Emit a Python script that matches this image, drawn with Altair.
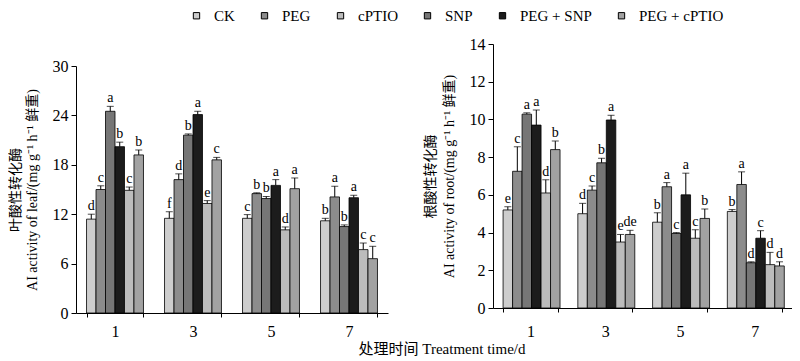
import altair as alt
import pandas as pd

days = ["1", "3", "5", "7"]
bar_order = ["CK", "PEG", "SNP", "PEG + SNP", "cPTIO", "PEG + cPTIO"]
legend_order = ["CK", "PEG", "cPTIO", "SNP", "PEG + SNP", "PEG + cPTIO"]
fill_colors = ["#cdcdcd", "#8c8c8c", "#bcbcbc", "#767676", "#1c1c1c", "#a2a2a2"]

# Leaf AI activity (mean, error, significance letter) per treatment, days 1,3,5,7
leaf_CK = [11.4, 11.5, 11.5, 11.2]
leaf_CK_err = [0.6, 0.8, 0.45, 0.3]
leaf_CK_sig = ["d", "f", "c", "b"]
leaf_PEG = [15.0, 16.2, 14.5, 14.1]
leaf_PEG_err = [0.45, 0.7, 0.1, 1.3]
leaf_PEG_sig = ["c", "d", "b", "a"]
leaf_SNP = [24.5, 21.6, 13.9, 10.5]
leaf_SNP_err = [0.6, 0.15, 0.25, 0.2]
leaf_SNP_sig = ["a", "b", "b", "b"]
leaf_PEGSNP = [20.2, 24.1, 15.5, 14.0]
leaf_PEGSNP_err = [0.55, 0.4, 0.7, 0.3]
leaf_PEGSNP_sig = ["b", "a", "a", "a"]
leaf_cPTIO = [14.9, 13.3, 10.1, 7.7]
leaf_cPTIO_err = [0.4, 0.35, 0.35, 0.8]
leaf_cPTIO_sig = ["c", "e", "d", "c"]
leaf_PEGcPTIO = [19.2, 18.6, 15.1, 6.6]
leaf_PEGcPTIO_err = [0.6, 0.3, 1.3, 1.5]
leaf_PEGcPTIO_sig = ["b", "c", "a", "c"]

# Root AI activity
root_CK = [5.2, 5.0, 4.55, 5.12]
root_CK_err = [0.17, 0.55, 0.5, 0.1]
root_CK_sig = ["e", "d", "b", "b"]
root_PEG = [7.25, 6.25, 6.43, 6.55]
root_PEG_err = [1.3, 0.22, 0.22, 0.67]
root_PEG_sig = ["c", "c", "a", "a"]
root_SNP = [10.28, 7.7, 3.95, 2.4]
root_SNP_err = [0.07, 0.24, 0.05, 0.05]
root_SNP_sig = ["a", "b", "c", "d"]
root_PEGSNP = [9.7, 9.97, 6.0, 3.7]
root_PEGSNP_err = [0.8, 0.25, 1.15, 0.4]
root_PEGSNP_sig = ["a", "a", "a", "c"]
root_cPTIO = [6.1, 3.5, 3.7, 2.3]
root_cPTIO_err = [0.7, 0.4, 0.45, 0.65]
root_cPTIO_sig = ["d", "e", "c", "d"]
root_PEGcPTIO = [8.4, 3.9, 4.75, 2.23]
root_PEGcPTIO_err = [0.45, 0.22, 0.5, 0.22]
root_PEGcPTIO_sig = ["b", "de", "b", "d"]

leaf_y_ticks = [0, 6, 12, 18, 24, 30]
root_y_ticks = [0, 2, 4, 6, 8, 10, 12, 14]


def build(series):
    rows = []
    for name, (vals, errs, sigs) in series.items():
        for d, v, e, s in zip(days, vals, errs, sigs):
            rows.append({"day": d, "treat": name, "value": v, "top": v + e, "sig": s})
    return pd.DataFrame(rows)


leaf_df = build({
    "CK": (leaf_CK, leaf_CK_err, leaf_CK_sig),
    "PEG": (leaf_PEG, leaf_PEG_err, leaf_PEG_sig),
    "SNP": (leaf_SNP, leaf_SNP_err, leaf_SNP_sig),
    "PEG + SNP": (leaf_PEGSNP, leaf_PEGSNP_err, leaf_PEGSNP_sig),
    "cPTIO": (leaf_cPTIO, leaf_cPTIO_err, leaf_cPTIO_sig),
    "PEG + cPTIO": (leaf_PEGcPTIO, leaf_PEGcPTIO_err, leaf_PEGcPTIO_sig),
})
root_df = build({
    "CK": (root_CK, root_CK_err, root_CK_sig),
    "PEG": (root_PEG, root_PEG_err, root_PEG_sig),
    "SNP": (root_SNP, root_SNP_err, root_SNP_sig),
    "PEG + SNP": (root_PEGSNP, root_PEGSNP_err, root_PEGSNP_sig),
    "cPTIO": (root_cPTIO, root_cPTIO_err, root_cPTIO_sig),
    "PEG + cPTIO": (root_PEGcPTIO, root_PEGcPTIO_err, root_PEGcPTIO_sig),
})

SERIF = "Liberation Serif, Times New Roman, Noto Sans CJK SC, serif"


def panel(df, ymax, yticks, width, height, ytitle, title_pad, line_h, xlabel_pad):
    x = alt.X("day:N", sort=days,
              scale=alt.Scale(paddingInner=0.27, paddingOuter=0.135),
              axis=alt.Axis(title=None, labelAngle=0, tickBand="extent", tickSize=4,
                            labelPadding=xlabel_pad, labelFontSize=16))
    xo = alt.XOffset("treat:N", sort=bar_order,
                     scale=alt.Scale(paddingInner=0, paddingOuter=0))
    y_scale = alt.Scale(domain=[0, ymax], nice=False)
    y_axis = alt.Axis(values=yticks, title=ytitle, grid=False, tickSize=5,
                      labelPadding=3, labelFontSize=16, titlePadding=title_pad,
                      labelOverlap=False, titleFontSize=14, titleLineHeight=line_h)
    base = alt.Chart(df)
    bars = base.mark_bar(stroke="black", strokeWidth=0.8).encode(
        x=x, xOffset=xo, y=alt.Y("value:Q", scale=y_scale, axis=y_axis),
        color=alt.Color("treat:N",
                        scale=alt.Scale(domain=legend_order, range=fill_colors),
                        legend=alt.Legend(title=None, orient="none", direction="horizontal",
                                          legendX=113, legendY=-36, symbolType="square",
                                          symbolSize=40, symbolStrokeColor="black",
                                          symbolStrokeWidth=1, labelFontSize=15,
                                          labelOffset=10, columnPadding=22, labelFont=SERIF)))
    err = base.mark_rule(color="black", strokeWidth=1).encode(
        x=x, xOffset=xo, y=alt.Y("value:Q", scale=y_scale, axis=y_axis), y2="top:Q")
    cap = base.mark_tick(orient="horizontal", size=7, thickness=1, color="black").encode(
        x=x, xOffset=xo, y=alt.Y("top:Q", scale=y_scale, axis=y_axis))
    txt = base.mark_text(baseline="bottom", dy=-1, fontSize=14, font=SERIF,
                         color="black", fill="black").encode(
        x=x, xOffset=xo, y=alt.Y("top:Q", scale=y_scale, axis=y_axis), text="sig:N")
    return alt.layer(bars, err, cap, txt).properties(width=width, height=height)


left = panel(leaf_df, 30, leaf_y_ticks, 312, 247,
             ["叶酸性转化酶", "AI activity of leaf/(mg g⁻¹ h⁻¹ 鲜重)"], 13, 17, 6)
right = panel(root_df, 14, root_y_ticks, 299, 264,
              ["根酸性转化酶", "AI activity of root/(mg g⁻¹ h⁻¹ 鲜重)"], 13, 19, 11)

spacer_df = pd.DataFrame({"v": [0]})
spacer = alt.Chart(spacer_df).mark_point(opacity=0).encode(
    x=alt.X("v:Q", axis=None), y=alt.Y("v:Q", axis=None)
).properties(width=312, height=14)

left_col = alt.vconcat(spacer, left, spacing=0)

chart = alt.hconcat(left_col, right, spacing=35).properties(
    title=alt.Title("处理时间 Treatment time/d", orient="bottom", anchor="middle",
                    dx=42, offset=3, fontSize=15, fontWeight="normal", font=SERIF),
    padding={"left": 0, "top": 0, "right": 0, "bottom": 0},
).configure_view(stroke=None).configure_axis(
    domainColor="black", tickColor="black", labelColor="black", titleColor="black",
    labelFont=SERIF, titleFont=SERIF, titleFontWeight="normal",
).configure_axisY(labelOverlap=False).configure_title(color="black")

chart.save("out.html", embed_options={"renderer": "svg", "actions": False})
